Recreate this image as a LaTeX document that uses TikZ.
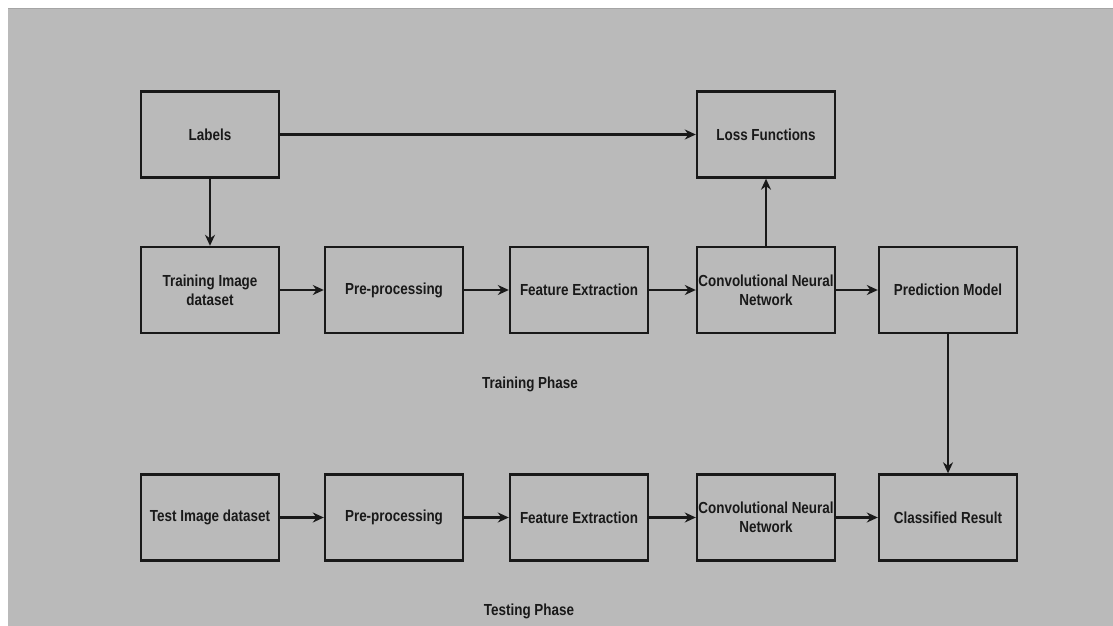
\documentclass[tikz,border=0pt]{standalone}
\usepackage{fontspec}
\setmainfont{Liberation Sans}[FakeStretch=0.84]
\usetikzlibrary{arrows.meta}
\definecolor{bggray}{RGB}{186,186,186}
\definecolor{topline}{RGB}{165,165,165}
\definecolor{ink}{RGB}{25,25,25}
\begin{document}
\begin{tikzpicture}[x=1pt,y=-1pt,
  box/.style={draw=ink, line width=2.4pt, minimum width=138pt, minimum height=86pt, inner sep=0pt,
    align=center, text=ink, font=\fontsize{16}{19}\selectfont\bfseries},
  conn/.style={draw=ink, line width=2.4pt, -{Stealth[length=11pt,width=10pt]}},
  phase/.style={text=ink, font=\fontsize{16}{19}\selectfont\bfseries}]
\useasboundingbox (0,0) rectangle (1113,626);
\fill[white] (0,0) rectangle (1113,626);
\fill[bggray] (8,8) rectangle (1113,626);
\draw[topline, line width=1.5pt] (8,8.5) -- (1113,8.5);

\node[box] (labels) at (210,134.5) {Labels};
\node[box] (loss) at (766,134.5) {Loss Functions};

\node[box] (train) at (210,290) {Training Image\\dataset};
\node[box] (pre1) at (394,290) {Pre-processing};
\node[box] (feat1) at (579,290) {Feature Extraction};
\node[box] (cnn1) at (766,290) {Convolutional Neural\\Network};
\node[box] (pred) at (948,290) {Prediction Model};

\node[box] (test) at (210,517.5) {Test Image dataset};
\node[box] (pre2) at (394,517.5) {Pre-processing};
\node[box] (feat2) at (579,517.5) {Feature Extraction};
\node[box] (cnn2) at (766,517.5) {Convolutional Neural\\Network};
\node[box] (cls) at (948,517.5) {Classified Result};

\node[phase] (trainphase) at (530,384) {Training Phase};
\node[phase] (testphase) at (529,611) {Testing Phase};

\draw[conn] (labels) -- (loss);
\draw[conn] (labels) -- (train);
\draw[conn] (train) -- (pre1);
\draw[conn] (pre1) -- (feat1);
\draw[conn] (feat1) -- (cnn1);
\draw[conn] (cnn1) -- (pred);
\draw[conn] (cnn1) -- (loss);
\draw[conn] (pred) -- (cls);

\draw[conn] (test) -- (pre2);
\draw[conn] (pre2) -- (feat2);
\draw[conn] (feat2) -- (cnn2);
\draw[conn] (cnn2) -- (cls);
\end{tikzpicture}
\end{document}
